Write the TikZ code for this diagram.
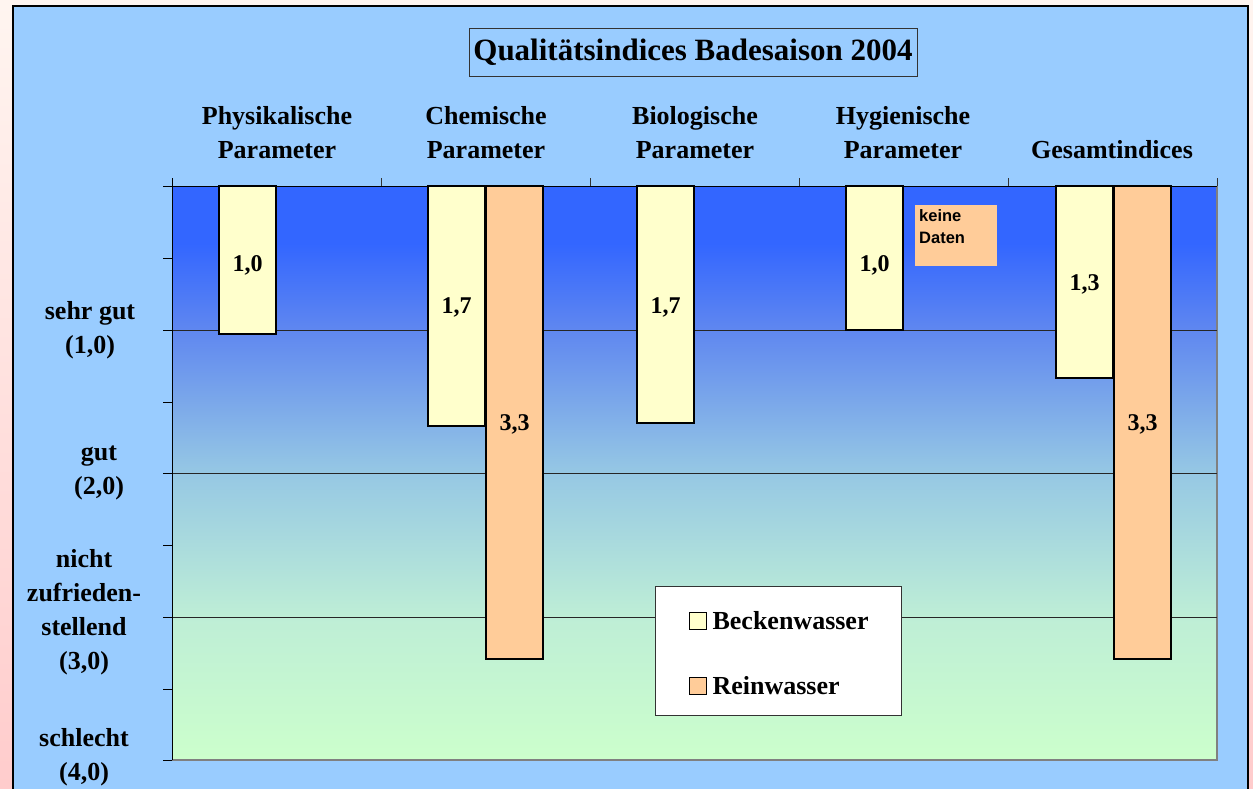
\documentclass[tikz,border=0pt]{standalone}
\usepackage{fontspec}
\setmainfont{Liberation Serif}
\newfontfamily\sansfont{Liberation Sans}
\usetikzlibrary{positioning}
\definecolor{beckencol}{HTML}{FFFFCC}
\definecolor{reincol}{HTML}{FFCC99}
\definecolor{framebg}{HTML}{99CCFF}
\definecolor{pinktop}{HTML}{FFF5F0}
\definecolor{pinkbot}{HTML}{FFCCCC}
\definecolor{bgtop}{RGB}{51,102,255}
\definecolor{bgupper}{RGB}{95,135,240}
\definecolor{bgmid}{RGB}{150,200,228}
\definecolor{bglower}{RGB}{190,238,214}
\definecolor{bgbottom}{RGB}{204,255,204}
\pgfdeclareverticalshading{plotbg}{100bp}{color(0bp)=(bgbottom); color(25bp)=(bgbottom); color(37.5bp)=(bglower); color(50bp)=(bgmid); color(62.5bp)=(bgupper); color(70bp)=(bgtop); color(75bp)=(bgtop); color(100bp)=(bgtop)}
\begin{document}
\begin{tikzpicture}[x=1pt,y=-1pt,
            becken-bar/.style={draw=black,line width=1.2pt,fill=beckencol},
            rein-bar/.style={draw=black,line width=1.2pt,fill=reincol},
            bar-label/.style={font=\fontsize{24}{28}\selectfont\bfseries},
            cat-label/.style={align=center,font=\fontsize{26}{34}\selectfont\bfseries},
            grade-label/.style={align=center,font=\fontsize{26}{34}\selectfont\bfseries},
            grid-line/.style={draw=black!85,line width=0.8pt},
            legend-key/.style={draw=black,line width=0.8pt,minimum size=17,inner sep=0},
            legend-text/.style={font=\fontsize{26}{30}\selectfont\bfseries,inner sep=0},
        ]
            \useasboundingbox (0,0) rectangle (1253,789);
            \shade[top color=pinktop,bottom color=pinkbot] (0,0) rectangle (1253,789);
            \filldraw[fill=framebg,draw=black,line width=2pt] (13,6) rectangle (1248,795);

            % plot area
            \shade[shading=plotbg] (172,186) rectangle (1217,760);
            \draw[gray,line width=1.5pt] (1217,186) -- (1217,760) -- (172,760);
            \foreach \y in {330,473,617}
                \draw[grid-line] (172,\y) -- (1217,\y);
            \draw[black,line width=1pt] (172,186) -- (1217,186);
            \draw[black,line width=1pt] (172,178) -- (172,760);
            \foreach \x in {381,590,799,1008,1217}
                \draw[black!80,line width=0.8pt] (\x,178) -- (\x,186);
            \foreach \y in {186,258,330,402,473,545,617,689,760}
                \draw[black,line width=1pt] (163,\y) -- (172,\y);

            % title and categories
            \node[draw=black!80,line width=0.8pt,minimum width=448,minimum height=48,inner sep=0,
                font=\fontsize{31}{36}\selectfont\bfseries] (title) at (693,52) {Qualitätsindices Badesaison 2004};
            \node[cat-label] (phys) at (277,133) {Physikalische\\Parameter};
            \node[cat-label] (chem) at (486,133) {Chemische\\Parameter};
            \node[cat-label] (bio) at (695,133) {Biologische\\Parameter};
            \node[cat-label] (hyg) at (903,133) {Hygienische\\Parameter};
            \node[cat-label] (ges) at (1112,150) {Gesamtindices};

            % grades
            \node[grade-label] (sehrgut) at (90,330) {sehr gut\\(1,0)};
            \node[grade-label] (gut) at (99,473) {gut\\(2,0)};
            \node[grade-label] (nz) at (84,612) {nicht\\zufrieden-\\stellend\\(3,0)};
            \node[grade-label] (schlecht) at (84,757) {schlecht\\(4,0)};

            % bars
            \draw[becken-bar] (219,186) rectangle (276,334);
            \draw[becken-bar] (428,186) rectangle (485,426);
            \draw[rein-bar] (486,186) rectangle (543,659);
            \draw[becken-bar] (637,186) rectangle (694,423);
            \draw[becken-bar] (846,186) rectangle (903,330);
            \draw[becken-bar] (1056,186) rectangle (1113,378);
            \draw[rein-bar] (1114,186) rectangle (1171,659);

            \node[bar-label] (phys-b) at (247.5,265) {1,0};
            \node[bar-label] (chem-b) at (456.5,307) {1,7};
            \node[bar-label] (chem-r) at (514.5,424) {3,3};
            \node[bar-label] (bio-b) at (665.5,307) {1,7};
            \node[bar-label] (hyg-b) at (874.5,265) {1,0};
            \node[bar-label] (ges-b) at (1084.5,284) {1,3};
            \node[bar-label] (ges-r) at (1142.5,424) {3,3};

            % no data
            \node[fill=reincol,minimum width=82,minimum height=61,inner sep=0] (nodata-box) at (955.5,235.5) {};
            \node[anchor=north west,align=left,inner sep=0,
                font=\sansfont\bfseries\fontsize{16.5}{22}\selectfont] (nodata) at (919,209) {keine\\Daten};

            % legend
            \node[draw=black!80,line width=1pt,fill=white,minimum width=246,minimum height=129,inner sep=0] (legend) at (778,650.5) {};
            \node[legend-key,fill=beckencol] (key-b) at (697.5,620.5) {};
            \node[legend-text,right=6 of key-b] (text-b) {Beckenwasser};
            \node[legend-key,fill=reincol] (key-r) at (697.5,685.5) {};
            \node[legend-text,right=6 of key-r] (text-r) {Reinwasser};
        \end{tikzpicture}
\end{document}
